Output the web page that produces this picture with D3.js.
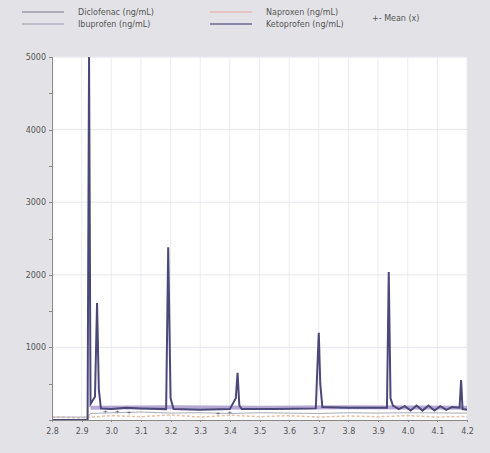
<!DOCTYPE html>
<html lang="en">
<head>
<meta charset="utf-8">
<title>Concentration time series</title>
<script src="https://d3js.org/d3.v7.min.js"></script>
<style>
	body { margin: 0; background: #e3e3e7; }
	.axis text { font-family: "DejaVu Sans", sans-serif; font-size: 8px; fill: #555; }
	.axis path, .axis line { stroke: #888; shape-rendering: crispEdges; }
	.legend text { font-family: "DejaVu Sans", sans-serif; font-size: 8px; fill: #555; }
</style>
</head>
<body>
<script>
var w = 490, h = 453;
var margin = {top: 57, right: 23, bottom: 33, left: 52};

var xTicks = [2.8, 2.9, 3.0, 3.1, 3.2, 3.3, 3.4, 3.5, 3.6, 3.7, 3.8, 3.9, 4.0, 4.1, 4.2];
var yTicks = [1000, 2000, 3000, 4000, 5000];
var seriesNames = ["Diclofenac (ng/mL)", "Ibuprofen (ng/mL)", "Naproxen (ng/mL)", "Ketoprofen (ng/mL)", "Mean (x)"];

// main dark series with the peaks
var diclofenac = [[2.80,0],[2.92,0],[2.925,5000],[2.93,220],[2.945,320],[2.952,1610],[2.958,420],[2.965,160],
	[3.00,150],[3.05,170],[3.10,160],[3.185,150],[3.192,2380],[3.20,300],[3.21,150],[3.30,140],[3.40,150],
	[3.42,300],[3.426,650],[3.432,200],[3.44,150],[3.55,150],[3.69,160],[3.695,700],[3.70,1200],[3.705,500],
	[3.712,180],[3.80,170],[3.93,170],[3.936,2040],[3.942,300],[3.95,200],[3.97,150],[3.99,190],[4.01,130],
	[4.03,200],[4.05,130],[4.07,200],[4.09,130],[4.11,190],[4.13,140],[4.15,180],[4.175,170],[4.18,550],[4.185,150],[4.20,140]];
var ibuprofen = [[2.93,170],[3.2,175],[3.5,170],[3.8,175],[4.2,170]];
var naproxen = [[2.80,40],[2.9,30],[3.0,60],[3.1,45],[3.2,70],[3.3,40],[3.4,65],[3.5,45],[3.6,60],[3.7,40],[3.8,55],[3.9,45],[4.0,60],[4.1,40],[4.2,50]];
var ketoprofen = [[2.80,40],[2.92,40],[2.93,90],[3.0,100],[3.1,110],[3.2,95],[3.3,100],[3.4,90],[3.5,100],[3.6,95],[3.7,90],[3.8,100],[3.9,95],[4.0,100],[4.2,95]];
var meanPts = [[2.98,120],[3.02,130],[3.06,110],[3.36,100],[3.40,110]];

var svg = d3.select("body").append("svg").attr("width", w).attr("height", h);

var x = d3.scaleLinear().domain([2.8, 4.2]).range([margin.left, w - margin.right]);
var y = d3.scaleLinear().domain([0, 5000]).range([h - margin.bottom, margin.top]);

svg.append("rect").attr("x", margin.left).attr("y", margin.top)
	.attr("width", w - margin.left - margin.right).attr("height", h - margin.top - margin.bottom)
	.attr("fill", "#fff");

// grid
svg.append("g").selectAll("line").data(xTicks).enter().append("line")
	.attr("x1", function(d){ return x(d); }).attr("x2", function(d){ return x(d); })
	.attr("y1", margin.top).attr("y2", h - margin.bottom)
	.attr("stroke", "#ececf2");
svg.append("g").selectAll("line").data(yTicks).enter().append("line")
	.attr("x1", margin.left).attr("x2", w - margin.right)
	.attr("y1", function(d){ return y(d); }).attr("y2", function(d){ return y(d); })
	.attr("stroke", "#e6e6ee");

var line = d3.line().x(function(d){ return x(d[0]); }).y(function(d){ return y(d[1]); });

svg.append("path").datum(naproxen).attr("d", line).attr("fill", "none")
	.attr("stroke", "#e8c0a8").attr("stroke-width", 1.5).attr("stroke-dasharray", "3,2");
svg.append("path").datum(ketoprofen).attr("d", line).attr("fill", "none")
	.attr("stroke", "#a9a9b8").attr("stroke-width", 1);
svg.append("path").datum(ibuprofen).attr("d", line).attr("fill", "none")
	.attr("stroke", "#b8a8d8").attr("stroke-width", 4);
svg.append("path").datum(diclofenac).attr("d", line).attr("fill", "none")
	.attr("stroke", "#4a4878").attr("stroke-width", 2);

svg.append("g").selectAll("text").data(meanPts).enter().append("text")
	.attr("x", function(d){ return x(d[0]); }).attr("y", function(d){ return y(d[1]) + 3; })
	.attr("text-anchor", "middle").attr("font-size", 8).attr("fill", "#4a4878").text("+");

// axes
var yAxis = d3.axisLeft(y).tickValues(d3.range(500, 5001, 500)).tickSize(3)
	.tickFormat(function(d){ return d % 1000 === 0 ? d : ""; });
svg.append("g").attr("class", "axis").attr("transform", "translate(" + margin.left + ",0)").call(yAxis);

var xAxis = d3.axisBottom(x).tickValues(xTicks).tickSize(2).tickFormat(d3.format(".1f"));
svg.append("g").attr("class", "axis").attr("transform", "translate(0," + (h - margin.bottom) + ")").call(xAxis)
	.selectAll("text").attr("dy", "1.1em");

// legend
var legend = svg.append("g").attr("class", "legend");
var legendItems = [
	{name: seriesNames[0], color: "#9a9aa8", lx: 22, ly: 12},
	{name: seriesNames[1], color: "#b0b0c0", lx: 22, ly: 24},
	{name: seriesNames[2], color: "#e8b8b8", lx: 210, ly: 12},
	{name: seriesNames[3], color: "#6a6890", lx: 210, ly: 24}
];
legendItems.forEach(function(d){
	legend.append("line").attr("x1", d.lx).attr("x2", d.lx + 42).attr("y1", d.ly).attr("y2", d.ly)
		.attr("stroke", d.color).attr("stroke-width", 1.5);
	legend.append("text").attr("x", d.lx + 56).attr("y", d.ly + 3).text(d.name);
});
legend.append("text").attr("x", 372).attr("y", 21).text("+- " + seriesNames[4]);
</script>
</body>
</html>
